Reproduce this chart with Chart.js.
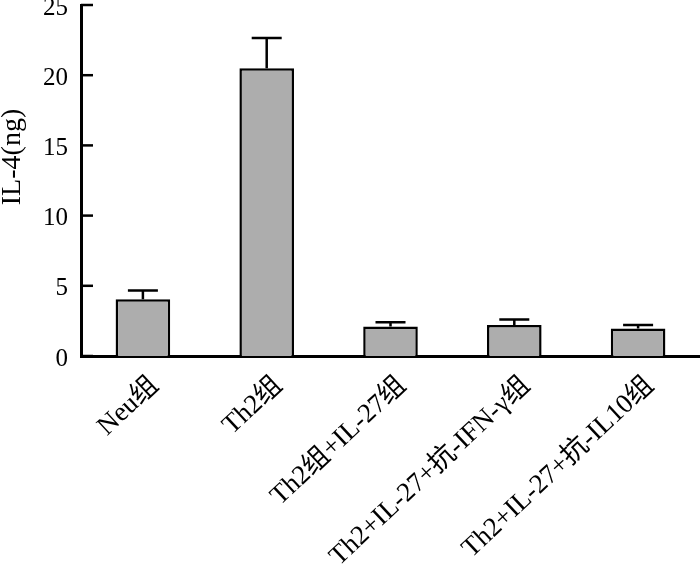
<!DOCTYPE html>
<html>
<head>
<meta charset="utf-8">
<script src="https://cdn.jsdelivr.net/npm/chart.js@4"></script>
<style>
  html, body { margin: 0; padding: 0; background: #fff; }
  #wrap { width: 700px; height: 569px; }
</style>
</head>
<body>
<div id="wrap"><canvas id="myChart"></canvas></div>
<script>
const categories = ['Neu组', 'Th2组', 'Th2组+IL-27组', 'Th2+IL-27+抗-IFN-γ组', 'Th2+IL-27+抗-IL10组'];
const il4Values = [4.05, 20.5, 2.1, 2.2, 1.95];
const il4Errors = [0.62, 2.15, 0.3, 0.4, 0.25];
const yTicks = [0, 5, 10, 15, 20, 25];
const yTitle = 'IL-4(ng)';

const FONT = "'Liberation Serif', 'Noto Sans CJK SC', serif";

// error bars (upper only) + inward tick marks + y title
const extras = {
    id: 'extras',
    afterDatasetsDraw(chart) {
        const ctx = chart.ctx;
        const y = chart.scales.y;
        const meta = chart.getDatasetMeta(0);
        ctx.save();
        ctx.strokeStyle = '#000';
        ctx.lineWidth = 2.5;
        meta.data.forEach(function (bar, i) {
            const top = y.getPixelForValue(il4Values[i] + il4Errors[i]);
            const base = y.getPixelForValue(il4Values[i]);
            ctx.beginPath();
            ctx.moveTo(bar.x, base);
            ctx.lineTo(bar.x, top);
            ctx.moveTo(bar.x - 15, top);
            ctx.lineTo(bar.x + 15, top);
            ctx.stroke();
        });
        yTicks.forEach(function (v) {
            const py = y.getPixelForValue(v);
            ctx.beginPath();
            ctx.moveTo(y.right, py);
            ctx.lineTo(y.right + 12, py);
            ctx.stroke();
        });
        ctx.fillStyle = '#000';
        ctx.font = '28px ' + FONT;
        ctx.textAlign = 'center';
        ctx.textBaseline = 'middle';
        ctx.translate(13, 157);
        ctx.rotate(-Math.PI / 2);
        ctx.fillText(yTitle, 0, 0);
        ctx.restore();
    }
};

new Chart(document.getElementById('myChart'), {
    type: 'bar',
    data: {
        labels: categories,
        datasets: [{
            label: yTitle,
            data: il4Values,
            backgroundColor: '#adadad',
            borderColor: '#000',
            borderWidth: 2.5,
            barPercentage: 0.9,
            categoryPercentage: 0.49,
        }]
    },
    options: {
        responsive: true,
        maintainAspectRatio: false,
        animation: false,
        layout: { padding: { top: 5, right: 0, left: 0, bottom: 0 } },
        plugins: {
            legend: { display: false },
            tooltip: { enabled: false },
        },
        scales: {
            x: {
                grid: { display: false, drawTicks: false },
                border: { display: true, color: '#000', width: 3 },
                ticks: {
                    color: '#000',
                    font: { family: FONT, size: 27 },
                    maxRotation: 43,
                    minRotation: 43,
                    padding: 14,
                    labelOffset: 12,
                    autoSkip: false,
                },
                afterFit: function (scale) { scale.height = 213; scale.paddingLeft = 0; scale.paddingRight = 0; }
            },
            y: {
                min: 0,
                max: 25,
                grid: { display: false, drawTicks: false },
                border: { display: true, color: '#000', width: 3 },
                ticks: {
                    stepSize: 5,
                    color: '#000',
                    font: { family: FONT, size: 25 },
                    padding: 13,
                    labelOffset: 3,
                },
                afterFit: function (scale) { scale.width = 81; scale.paddingTop = 0; scale.paddingBottom = 0; }
            }
        }
    },
    plugins: [extras]
});
</script>
</body>
</html>
